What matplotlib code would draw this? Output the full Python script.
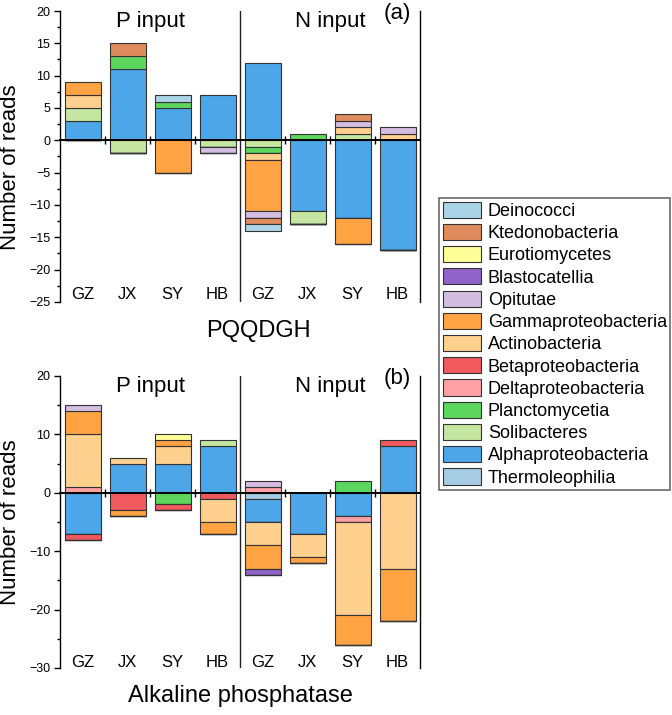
import numpy as np
import matplotlib
matplotlib.use("Agg")
import matplotlib.pyplot as plt
from matplotlib.patches import Patch
from matplotlib.ticker import MultipleLocator

plt.rcParams["font.family"] = ["Liberation Sans", "DejaVu Sans"]

# bars: P input GZ JX SY HB, then N input GZ JX SY HB
sites = ["GZ", "JX", "SY", "HB", "GZ", "JX", "SY", "HB"]

classes = ["Deinococci", "Ktedonobacteria", "Eurotiomycetes", "Blastocatellia",
           "Opitutae", "Gammaproteobacteria", "Actinobacteria", "Betaproteobacteria",
           "Deltaproteobacteria", "Planctomycetia", "Solibacteres",
           "Alphaproteobacteria", "Thermoleophilia"]
colors = ["#abd4e8", "#e08b5e", "#ffff99", "#8f63c7", "#d3bde0", "#ffa343",
          "#ffd08e", "#f05a5f", "#ffa0a5", "#5cd65c", "#c5e6a0", "#4da6e8",
          "#a6cde3"]

# PQQDGH (signed read counts per bar)
pqq_deinococci = [0, 0, 1, 0, -1, 0, 0, 0]
pqq_ktedonobacteria = [0, 2, 0, 0, -1, 0, 1, 0]
pqq_eurotiomycetes = [0, 0, 0, 0, 0, 0, 0, 0]
pqq_blastocatellia = [0, 0, 0, 0, 0, 0, 0, 0]
pqq_opitutae = [0, 0, 0, -1, -1, 0, 1, 1]
pqq_gamma = [2, 0, -5, 0, -8, 0, -4, 0]
pqq_actino = [2, 0, 0, 0, -1, 0, 1, 1]
pqq_beta = [0, 0, 0, 0, 0, 0, 0, 0]
pqq_delta = [0, 0, 0, 0, 0, 0, 0, 0]
pqq_plancto = [0, 2, 1, 0, -1, 1, 0, 0]
pqq_soli = [2, -2, 0, -1, -1, -2, 1, 0]
pqq_alpha = [3, 11, 5, 7, 12, -11, -12, -17]
pqq_thermo = [0, 0, 0, 0, 0, 0, 0, 0]

# Alkaline phosphatase
alp_deinococci = [0, 0, 0, 0, 0, 0, 0, 0]
alp_ktedonobacteria = [0, 0, 0, 0, 0, 0, 0, 0]
alp_eurotiomycetes = [0, 0, 1, 0, 0, 0, 0, 0]
alp_blastocatellia = [0, 0, 0, 0, -1, 0, 0, 0]
alp_opitutae = [1, 0, 0, 0, 1, 0, 0, 0]
alp_gamma = [4, -1, 1, -2, -4, -1, -5, -9]
alp_actino = [9, 1, 3, -4, -4, -4, -16, -13]
alp_beta = [-1, -3, -1, -1, 0, 0, 0, 1]
alp_delta = [1, 0, 0, 0, 1, 0, -1, 0]
alp_plancto = [0, 0, -2, 0, 0, 0, 2, 0]
alp_soli = [0, 0, 0, 1, 0, 0, 0, 0]
alp_alpha = [-7, 5, 5, 8, -4, -7, -4, 8]
alp_thermo = [0, 0, 0, 0, -1, 0, 0, 0]

pqq = [pqq_deinococci, pqq_ktedonobacteria, pqq_eurotiomycetes, pqq_blastocatellia,
       pqq_opitutae, pqq_gamma, pqq_actino, pqq_beta, pqq_delta, pqq_plancto,
       pqq_soli, pqq_alpha, pqq_thermo]
alp = [alp_deinococci, alp_ktedonobacteria, alp_eurotiomycetes, alp_blastocatellia,
       alp_opitutae, alp_gamma, alp_actino, alp_beta, alp_delta, alp_plancto,
       alp_soli, alp_alpha, alp_thermo]


def draw(ax, data, ylo, yhi, major, minor, letter, label_y):
    x = np.arange(len(sites))
    pos = np.zeros(len(sites))
    neg = np.zeros(len(sites))
    # stack outward from zero, last legend entry first
    for vals, col in zip(data[::-1], colors[::-1]):
        v = np.array(vals, dtype=float)
        bottom = np.where(v > 0, pos, neg)
        ax.bar(x, v, 0.8, bottom=bottom, color=col, edgecolor="#333333",
               linewidth=0.8, zorder=2)
        pos += np.clip(v, 0, None)
        neg += np.clip(v, None, 0)

    ax.set_xlim(-0.5, 7.5)
    ax.set_ylim(ylo, yhi)
    ax.spines["top"].set_visible(False)
    ax.spines["bottom"].set_position(("data", 0))
    ax.spines["bottom"].set_linewidth(1.4)
    ax.spines["bottom"].set_zorder(3)
    ax.spines["left"].set_linewidth(1.0)
    ax.spines["right"].set_linewidth(1.0)
    ax.set_xticks([0.5, 1.5, 2.5, 4.5, 5.5, 6.5])
    ax.set_xticklabels([])
    ax.tick_params(axis="x", direction="inout", length=6, width=1)
    ax.yaxis.set_major_locator(MultipleLocator(major))
    ax.yaxis.set_minor_locator(MultipleLocator(minor))
    ax.tick_params(axis="y", which="major", length=4, width=1, labelsize=9, pad=3)
    ax.tick_params(axis="y", which="minor", length=2.5, width=1)
    ax.tick_params(axis="y", right=False)
    ax.axvline(3.5, color="#222222", linewidth=1.0, zorder=1)

    for i, s in enumerate(sites):
        ax.text(i, label_y, s, ha="center", va="baseline", fontsize=12)
    ax.text(1.5, 0.965, "P input", transform=ax.get_xaxis_transform(),
            ha="center", va="center", fontsize=16)
    ax.text(5.5, 0.965, "N input", transform=ax.get_xaxis_transform(),
            ha="center", va="center", fontsize=16)
    ax.text(7.0, 0.99, letter, transform=ax.get_xaxis_transform(),
            ha="center", va="center", fontsize=16)


fig = plt.figure(figsize=(6.72, 7.15), dpi=100)
ax1 = fig.add_axes([60 / 672, 1 - 302 / 715, 360 / 672, 291 / 715])
ax2 = fig.add_axes([60 / 672, 1 - 668 / 715, 360 / 672, 292 / 715])

draw(ax1, pqq, -25, 20, 5, 2.5, "(a)", -24.6)
draw(ax2, alp, -30, 20, 10, 5, "(b)", -29.9)

fig.text(11 / 672, 1 - 167 / 715, "Number of reads", rotation=90,
         ha="center", va="center", fontsize=16)
fig.text(11 / 672, 1 - 522 / 715, "Number of reads", rotation=90,
         ha="center", va="center", fontsize=16)
fig.text(258 / 672, 1 - 337 / 715, "PQQDGH", ha="center", va="baseline", fontsize=17)
fig.text(240 / 672, 1 - 702 / 715, "Alkaline phosphatase", ha="center",
         va="baseline", fontsize=17)

handles = [Patch(facecolor=c, edgecolor="#333333", linewidth=0.8, label=n)
           for n, c in zip(classes, colors)]
leg = fig.legend(handles=handles, loc="upper left",
                 bbox_to_anchor=(439 / 672, 1 - 198 / 715), fontsize=13,
                 frameon=True, fancybox=False, handlelength=2.15,
                 handleheight=1.0, labelspacing=0.22, handletextpad=0.35,
                 borderpad=0.2, borderaxespad=0)
leg.get_frame().set_edgecolor("#444444")
leg.get_frame().set_linewidth(1.2)

fig.savefig("out.png", dpi=100)
